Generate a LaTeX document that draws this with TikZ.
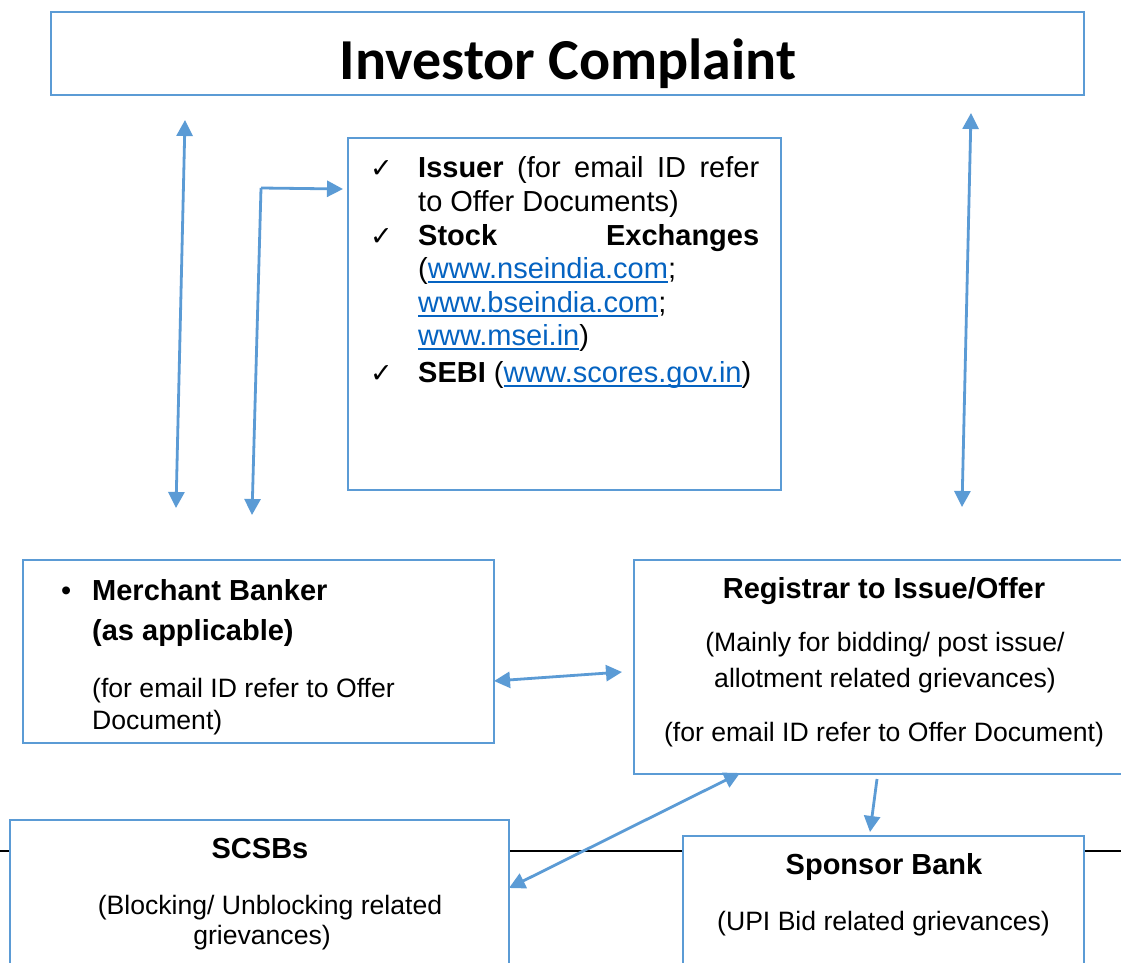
\documentclass[tikz,border=0pt]{standalone}
\usepackage{fontspec}
\setmainfont{Liberation Sans}
\newfontfamily\titlefont{Carlito}
\newfontfamily\symfont{DejaVu Sans}
\usetikzlibrary{arrows.meta}
\definecolor{bl}{HTML}{5B9BD5}
\definecolor{lk}{HTML}{0563C1}
\newcommand{\lnk}[1]{{\color{lk}\setbox0\hbox{#1}\rlap{\rule[-4.5pt]{\wd0}{2pt}}\box0}}
\newcommand{\ck}{{\symfont\fontsize{27}{27}\selectfont ✓}}
\begin{document}
\begin{tikzpicture}[x=1pt,y=-1pt,
  box/.style={draw=bl, line width=2.8pt, fill=white, rectangle, inner sep=0pt},
  arr/.style={draw=bl, line width=2.8pt, {Triangle[width=16pt,length=16pt]}-{Triangle[width=16pt,length=16pt]}},
  sarr/.style={draw=bl, line width=2.8pt, -{Triangle[width=16pt,length=16pt]}},
  txt/.style={inner sep=0pt, anchor=base west},
  ctxt/.style={inner sep=0pt, anchor=base},
  font=\fontsize{29}{34}\selectfont]
\useasboundingbox (0,0) rectangle (1121,963);
\fill[white] (0,0) rectangle (1121,963);
% black horizontal line
\coordinate (hl1) at (0,851);
\coordinate (hl2) at (1121,851);
\draw[black, line width=2.2pt] (hl1) -- (hl2);
% boxes
\node[box, minimum width=1033pt, minimum height=83pt] (tbox) at (567.5,53.5) {};
\node[box, minimum width=433pt, minimum height=352pt] (mbox) at (564.5,314) {};
\node[box, minimum width=471pt, minimum height=183pt] (mbank) at (258.5,651.5) {};
\node[box, minimum width=491pt, minimum height=214pt] (reg) at (879.5,667) {};
\node[box, minimum width=499pt, minimum height=155pt] (scsb) at (259.5,897.5) {};
\node[box, minimum width=401pt, minimum height=139pt] (spon) at (883.5,905.5) {};
% title
\node[ctxt, font=\titlefont\bfseries\fontsize{58}{60}\selectfont] (ttl) at (568,80) {Investor Complaint};
% middle box text
\node[txt] (c1) at (370,177) {\ck};
\node[txt] (l1) at (418,177) {\hbox to 341pt{\textbf{Issuer} \hfill(for \hfill email \hfill ID \hfill refer}};
\node[txt] (l2) at (418,211) {to Offer Documents)};
\node[txt] (c2) at (370,245) {\ck};
\node[txt] (l3) at (418,245) {\hbox to 341pt{\textbf{Stock}\hfill\textbf{Exchanges}}};
\node[txt] (l4) at (418,278) {(\lnk{www.nseindia.com};};
\node[txt] (l5) at (418,312) {\lnk{www.bseindia.com};};
\node[txt] (l6) at (418,345) {\lnk{www.msei.in})};
\node[txt] (c3) at (370,382) {\ck};
\node[txt] (l7) at (418,382) {\textbf{SEBI} (\lnk{www.scores.gov.in})};
% merchant banker
\node[txt] (mb0) at (61,600) {•};
\node[txt] (mb1) at (92,600) {\textbf{Merchant Banker}};
\node[txt] (mb2) at (92,640) {\textbf{(as applicable)}};
\node[txt, font=\fontsize{26.6}{32}\selectfont] (mb3) at (92,697) {(for email ID refer to Offer};
\node[txt, font=\fontsize{26.6}{32}\selectfont] (mb4) at (92,729) {Document)};
% registrar
\node[ctxt] (r1) at (884,598) {\textbf{Registrar to Issue/Offer}};
\node[ctxt, font=\fontsize{26.6}{32}\selectfont] (r2) at (885,651) {(Mainly for bidding/ post issue/};
\node[ctxt, font=\fontsize{26.6}{32}\selectfont] (r3) at (885,687) {allotment related grievances)};
\node[ctxt, font=\fontsize{26.6}{32}\selectfont] (r4) at (884,741) {(for email ID refer to Offer Document)};
% SCSBs
\node[ctxt] (s1) at (260,858) {\textbf{SCSBs}};
\node[ctxt, font=\fontsize{26.6}{32}\selectfont] (s2) at (270,914) {(Blocking/ Unblocking related};
\node[ctxt, font=\fontsize{26.6}{32}\selectfont] (s3) at (262,944) {grievances)};
% sponsor bank
\node[ctxt] (p1) at (884,874) {\textbf{Sponsor Bank}};
\node[ctxt, font=\fontsize{26.6}{32}\selectfont] (p2) at (883.5,930) {(UPI Bid related grievances)};
% arrow end points
\coordinate (L1a) at (185,120);
\coordinate (L1b) at (176,508);
\coordinate (cor) at (261,188);
\coordinate (M1) at (343,189);
\coordinate (M2) at (252,515);
\coordinate (R1a) at (971,113);
\coordinate (R1b) at (962,507);
\coordinate (H1) at (494,681);
\coordinate (H2) at (622,672);
\coordinate (D1) at (740,773);
\coordinate (D2) at (509,888);
\coordinate (S1) at (877,779);
\coordinate (S2) at (870,832);
% arrows
\draw[arr] (L1a) -- (L1b);
\draw[sarr] (cor) -- (M1);
\draw[sarr] (cor) -- (M2);
\draw[arr] (R1a) -- (R1b);
\draw[arr] (H1) -- (H2);
\draw[arr] (D1) -- (D2);
\draw[sarr] (S1) -- (S2);
\end{tikzpicture}
\end{document}
